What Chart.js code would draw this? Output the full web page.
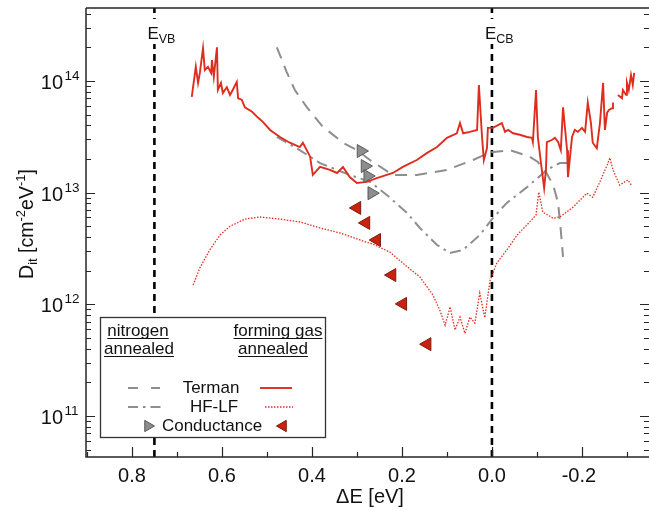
<!DOCTYPE html>
<html><head><meta charset="utf-8">
<style>html,body{margin:0;padding:0;background:#fff;}#wrap{width:649px;height:510px;position:relative;overflow:hidden;}</style>
<script src="https://cdn.jsdelivr.net/npm/chart.js@4/dist/chart.umd.min.js"></script>
</head><body><div id="wrap"><canvas id="c" width="649" height="510"></canvas></div>
<script>
// ---- data (ΔE [eV], D_it [cm^-2 eV^-1]) ----
const termanForming = [
 [0.667,7.2e13],[0.658,1.34e14],[0.653,9.6e13],[0.649,1.18e14],[0.642,1.97e14],[0.638,1.25e14],
 [0.631,1.34e14],[0.624,1.18e14],[0.622,1.54e14],[0.618,1.09e14],[0.611,2.0e14],[0.609,8.3e13],
 [0.602,9.6e13],[0.598,7.8e13],[0.589,8.8e13],[0.582,7.5e13],[0.576,8.3e13],[0.567,9.8e13],
 [0.564,7.0e13],[0.556,6.8e13],[0.549,5.8e13],[0.533,5.3e13],[0.52,4.7e13],[0.509,4.3e13],
 [0.493,3.64e13],[0.471,3.15e13],[0.449,2.8e13],[0.427,2.56e13],[0.42,2.8e13],[0.404,2.1e13],
 [0.398,1.44e13],[0.382,1.7e13],[0.36,1.6e13],[0.344,1.5e13],[0.331,1.7e13],[0.316,1.38e13],
 [0.3,1.22e13],[0.278,1.25e13],[0.256,1.35e13],[0.22,1.5e13],[0.198,1.7e13],[0.167,1.96e13],
 [0.144,2.27e13],[0.122,2.56e13],[0.1,3.1e13],[0.078,3.4e13],[0.071,4.2e13],[0.064,3.4e13],
 [0.049,3.5e13],[0.033,3.64e13],[0.029,9.2e13],[0.022,3.15e13],[0.018,1.96e13],[0.011,2.5e13],
 [0.009,3.8e13],[-0.002,3.8e13],[-0.022,4.2e13],[-0.029,3.5e13],[-0.036,3.64e13],[-0.047,3.4e13],
 [-0.062,3.3e13],[-0.078,3.15e13],[-0.089,3.1e13],[-0.091,2.84e13],[-0.098,8.3e13],[-0.102,3.15e13],
 [-0.109,1.84e13],[-0.116,1.1e13],[-0.12,1.6e13],[-0.122,2.84e13],[-0.133,2.96e13],[-0.14,3.1e13],
 [-0.147,2.84e13],[-0.153,2.4e13],[-0.158,5.8e13],[-0.167,2.4e13],[-0.169,1.38e13],[-0.178,3.15e13],
 [-0.184,3.64e13],[-0.191,3.5e13],[-0.2,3.8e13],[-0.207,3.5e13],[-0.213,6.4e13],[-0.22,4.2e13],
 [-0.224,2.8e13],[-0.233,2.5e13],[-0.24,4.2e13],[-0.247,9.6e13],[-0.251,3.64e13],[-0.256,5.2e13],
 [-0.26,5.5e13],[-0.267,5.7e13],[-0.269,6.4e13],[-0.274,null],
 [-0.28,7.5e13],[-0.289,7.0e13],[-0.291,8.3e13],[-0.298,7.5e13],[-0.3,9.6e13],[-0.304,8.3e13],
 [-0.309,1.13e14],[-0.313,9.2e13],[-0.316,1.18e14]
];
const hflfForming = [
 [0.664,1.49e12],[0.649,2.12e12],[0.627,3.07e12],[0.604,4.18e12],[0.582,5.0e12],[0.549,5.8e12],
 [0.516,6.06e12],[0.471,5.8e12],[0.427,5.47e12],[0.382,4.83e12],[0.338,4.36e12],[0.293,3.77e12],
 [0.26,3.4e12],[0.227,2.94e12],[0.193,2.25e12],[0.16,1.76e12],[0.131,1.21e12],[0.116,8.9e11],
 [0.104,6.5e11],[0.093,9.5e11],[0.082,5.9e11],[0.071,7.7e11],[0.06,5.5e11],[0.049,7.7e11],
 [0.038,6.8e11],[0.027,1.26e12],[0.016,7.6e11],[0.004,1.65e12],[-0.011,2.35e12],[-0.033,3.07e12],
 [-0.056,4.18e12],[-0.084,5.47e12],[-0.098,6.3e12],[-0.104,1.01e13],[-0.113,6.7e12],[-0.136,5.9e12],
 [-0.151,6.06e12],[-0.18,7.4e12],[-0.211,9.9e12],[-0.224,9.1e12],[-0.24,1.25e13],[-0.256,1.77e13],
 [-0.262,2.05e13],[-0.269,1.6e13],[-0.284,1.17e13],[-0.302,1.3e13],[-0.311,1.15e13]
];
const termanNitrogen = [
 [0.478,2.0e14],[0.456,1.2e14],[0.438,8.3e13],[0.411,5.8e13],[0.376,3.9e13],[0.331,2.8e13],
 [0.3,2.4e13],[0.271,1.96e13],[0.22,1.44e13],[0.167,1.44e13],[0.1,1.6e13],[0.042,1.96e13],
 [0.004,2.3e13],[-0.04,2.4e13],[-0.084,2.1e13],[-0.102,1.88e13],[-0.12,1.53e13],[-0.136,1.17e13],
 [-0.147,8.1e12],[-0.153,4.6e12],[-0.158,2.66e12]
];
const hflfNitrogen = [
 [0.478,3.15e13],[0.427,2.4e13],[0.382,1.84e13],[0.316,1.44e13],[0.271,1.25e13],[0.233,9.5e12],
 [0.189,6.6e12],[0.16,4.83e12],[0.122,3.4e12],[0.093,2.88e12],[0.064,3.07e12],[0.027,4.18e12],
 [-0.002,5.9e12],[-0.033,8.1e12],[-0.078,1.12e13],[-0.122,1.6e13],[-0.151,1.84e13],[-0.173,1.84e13]
];
const condNitrogen = [[0.291,2.36e13],[0.282,1.73e13],[0.276,1.41e13],[0.267,9.9e12]];
const condForming = [[0.3,7.3e12],[0.28,5.36e12],[0.256,3.77e12],[0.222,1.83e12],[0.198,1.01e12],[0.144,4.4e11]];
const bandEdges = [0.75, 0.0];
const bandEdgeLabels = [['E','VB'],['E','CB']];
const xTicks = [0.8,0.6,0.4,0.2,0.0,-0.2];
const xTickLabels = ['0.8','0.6','0.4','0.2','0.0','-0.2'];
const xMinorTicks = [0.9,0.7,0.5,0.3,0.1,-0.1,-0.3];
const yDecades = [11,12,13,14];
const xRange = [-0.349, 0.902];
const yRange = [4.3e10, 4.5e14];

const RED = '#de2d1e', GRAY = '#8e8e8e', AX = '#262626';
const FONT = '"Liberation Sans", Arial, sans-serif';

function vline(x){ return [[x,yRange[0]],[x,yRange[1]]]; }

const datasets = [
 {data: condForming, showLine:false, pointStyle:'triangle', rotation:-90, pointRadius:7.5,
  backgroundColor:'#c9220f', borderColor:'#7d1a10', borderWidth:1, order:0},
 {data: condNitrogen, showLine:false, pointStyle:'triangle', rotation:90, pointRadius:7.5,
  backgroundColor:'#8d8d8d', borderColor:'#5a5a5a', borderWidth:1, order:0},
 {data: termanForming, borderColor:RED, borderWidth:1.9, pointRadius:0, spanGaps:false, order:1},
 {data: hflfForming, borderColor:RED, borderWidth:1.3, borderDash:[1.5,1.5], pointRadius:0, order:1},
 {data: termanNitrogen, borderColor:GRAY, borderWidth:2, borderDash:[12,8], pointRadius:0, order:2},
 {data: hflfNitrogen, borderColor:GRAY, borderWidth:2, borderDash:[11,5,2.5,5], pointRadius:0, order:2},
 {data: vline(bandEdges[0]), borderColor:'#000', borderWidth:2.6, borderDash:[7,5], pointRadius:0, order:3},
 {data: vline(bandEdges[1]), borderColor:'#000', borderWidth:2.6, borderDash:[7,5], pointRadius:0, order:3}
];

function drawSeq(ctx, segs, x, y, align){
  let w = 0;
  segs.forEach(s => { ctx.font = s.f + 'px ' + FONT; s.w = ctx.measureText(s.t).width; w += s.w; });
  let cx = align === 'center' ? x - w/2 : x;
  segs.forEach(s => { ctx.font = s.f + 'px ' + FONT; ctx.fillText(s.t, cx, y + (s.dy||0)); cx += s.w; });
  return w;
}

const decor = {
  id:'decor',
  afterDatasetsDraw(chart){
    const ctx = chart.ctx, xs = chart.scales.x, ys = chart.scales.y, a = chart.chartArea;
    ctx.save();
    ctx.textBaseline = 'alphabetic';
    bandEdges.forEach((e,i) => {
      const px = xs.getPixelForValue(e);
      ctx.fillStyle = '#fff'; ctx.fillRect(px-8, 19, 34, 25);
      ctx.fillStyle = '#111';
      drawSeq(ctx, [{t:bandEdgeLabels[i][0], f:17},{t:bandEdgeLabels[i][1], f:12.5, dy:4}], px-7, 39, 'left');
    });
    // legend box
    const L = 100.5, T = 317.5, W = 225, H = 120;
    ctx.fillStyle = '#fff'; ctx.fillRect(L, T, W, H);
    ctx.strokeStyle = '#333'; ctx.lineWidth = 1.3; ctx.strokeRect(L, T, W, H);
    ctx.fillStyle = '#111'; ctx.font = '17px ' + FONT; ctx.textAlign = 'center';
    const ul = (t, cx, by) => {
      ctx.fillText(t, cx, by);
      const w = ctx.measureText(t).width;
      ctx.beginPath(); ctx.lineWidth = 1; ctx.strokeStyle = '#111';
      ctx.moveTo(cx - w/2, by + 2.5); ctx.lineTo(cx + w/2, by + 2.5); ctx.stroke();
    };
    ul('nitrogen', 138, 336); ul('annealed', 139, 354);
    ul('forming gas', 278, 336); ul('annealed', 273, 354);
    ctx.textBaseline = 'middle';
    ctx.fillText('Terman', 211, 388);
    ctx.fillText('HF-LF', 214, 407);
    ctx.fillText('Conductance', 212, 426);
    const seg = (x1, x2, y, col, w, dash) => {
      ctx.beginPath(); ctx.strokeStyle = col; ctx.lineWidth = w; ctx.setLineDash(dash);
      ctx.moveTo(x1, y); ctx.lineTo(x2, y); ctx.stroke(); ctx.setLineDash([]);
    };
    seg(128, 160, 388, GRAY, 2, [10,13]);
    seg(128, 161, 407, GRAY, 2, [10,5,2.5,5]);
    seg(260, 292, 388, RED, 1.9, []);
    seg(265, 293, 407, RED, 1.3, [1.5,1.5]);
    ctx.lineWidth = 1;
    ctx.fillStyle = '#8d8d8d'; ctx.strokeStyle = '#5a5a5a';
    Chart.helpers.drawPoint(ctx, {pointStyle:'triangle', rotation:90, radius:6.5, borderWidth:1}, 148, 426);
    ctx.fillStyle = '#c9220f'; ctx.strokeStyle = '#7d1a10';
    Chart.helpers.drawPoint(ctx, {pointStyle:'triangle', rotation:-90, radius:6.5, borderWidth:1}, 283, 426);
    ctx.restore();
  },
  afterDraw(chart){
    const ctx = chart.ctx, xs = chart.scales.x, ys = chart.scales.y, a = chart.chartArea;
    ctx.save();
    ctx.strokeStyle = AX; ctx.lineWidth = 1.5;
    ctx.beginPath();
    ctx.moveTo(a.left, a.top); ctx.lineTo(a.right, a.top);
    ctx.moveTo(a.left, a.top); ctx.lineTo(a.left, a.bottom); ctx.lineTo(a.right, a.bottom);
    ctx.stroke();
    // y ticks (log, inward on both sides)
    ctx.lineWidth = 1.2; ctx.beginPath();
    yDecades.concat([10]).forEach(d => {
      for (let m = 1; m <= 9; m++) {
        const v = m * Math.pow(10, d);
        if (v < yRange[0] || v > yRange[1]) continue;
        const py = Math.round(ys.getPixelForValue(v)) + 0.5;
        const len = m === 1 ? 9 : 5;
        ctx.moveTo(a.left, py); ctx.lineTo(a.left + len, py);
        ctx.moveTo(a.right, py); ctx.lineTo(a.right - len, py);
      }
    });
    xTicks.forEach(v => { const px = Math.round(xs.getPixelForValue(v)) + 0.5; ctx.moveTo(px, a.bottom); ctx.lineTo(px, a.bottom - 10); });
    xMinorTicks.forEach(v => { const px = Math.round(xs.getPixelForValue(v)) + 0.5; ctx.moveTo(px, a.bottom); ctx.lineTo(px, a.bottom - 5); });
    ctx.stroke();
    ctx.fillStyle = '#111'; ctx.textAlign = 'center'; ctx.textBaseline = 'alphabetic';
    ctx.font = '20px ' + FONT;
    xTicks.forEach((v,i) => {
      let px = xs.getPixelForValue(v);
      if (xTickLabels[i].startsWith('-')) px -= 3;
      ctx.fillText(xTickLabels[i], px, 482);
    });
    yDecades.forEach(d => {
      const py = ys.getPixelForValue(Math.pow(10, d));
      ctx.textAlign = 'right'; ctx.font = '20px ' + FONT;
      ctx.fillText('10', 63, py + 8);
      ctx.textAlign = 'left'; ctx.font = '13.5px ' + FONT;
      ctx.fillText(String(d), 64.5, py - 1);
    });
    ctx.textAlign = 'left';
    drawSeq(ctx, [{t:'\u0394E [eV]', f:20}], 370, 503, 'center');
    ctx.save();
    ctx.translate(33, 224); ctx.rotate(-Math.PI/2);
    drawSeq(ctx, [{t:'D', f:19.5},{t:'it', f:13, dy:4},{t:' [cm', f:19.5},{t:'-2', f:13, dy:-8},
                  {t:'eV', f:19.5},{t:'-1', f:13, dy:-8},{t:']', f:19.5}], 0, 0, 'center');
    ctx.restore();
    ctx.restore();
  }
};

new Chart(document.getElementById('c'), {
  type:'line',
  data:{datasets},
  options:{
    responsive:false, animation:false, devicePixelRatio:1,
    layout:{autoPadding:false, padding:{left:86, top:8, right:0, bottom:53}},
    plugins:{legend:{display:false}, tooltip:{enabled:false}},
    scales:{
      x:{type:'linear', reverse:true, min:xRange[0], max:xRange[1], display:false},
      y:{type:'logarithmic', min:yRange[0], max:yRange[1], display:false}
    }
  },
  plugins:[decor]
});
</script>
</body></html>
